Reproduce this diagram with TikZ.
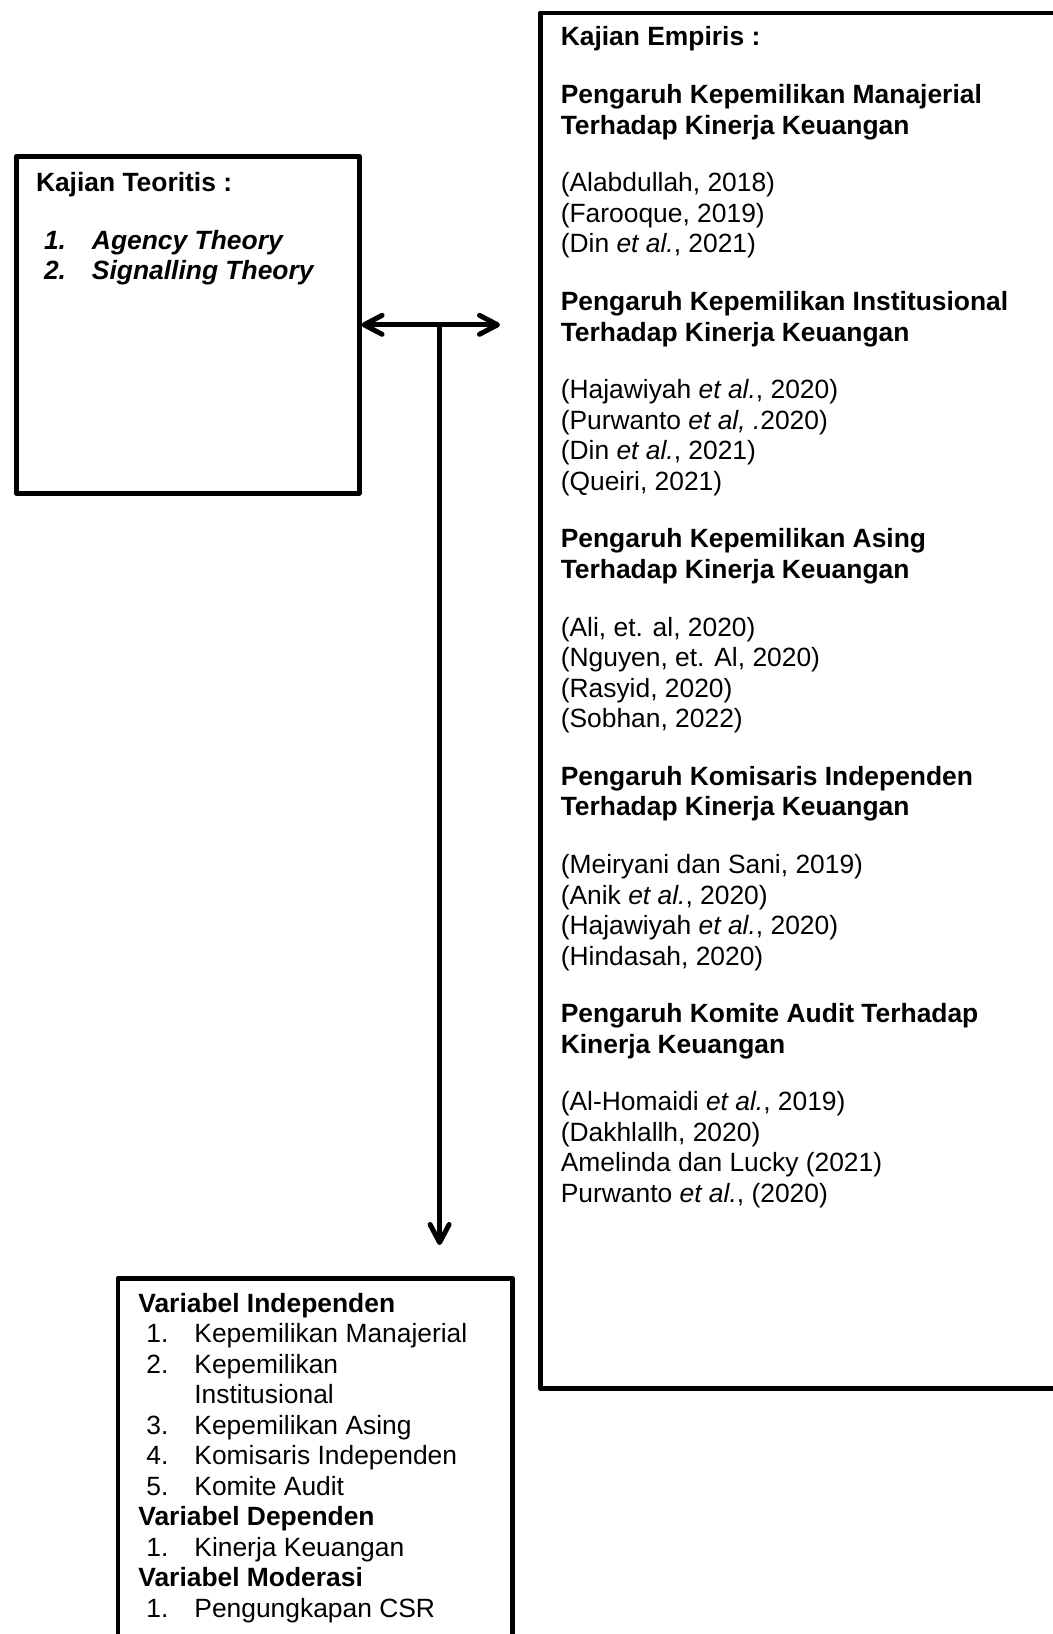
\documentclass[tikz,border=0pt]{standalone}
\usepackage{fontspec}
\setmainfont{Liberation Sans}
\usetikzlibrary{arrows.meta,positioning}

\newcommand{\numItem}[2]{\hspace*{4pt}\makebox[24pt][l]{#1}#2}
\newcommand{\topStrut}{\rule{0pt}{12pt}}
\def\gapSkip{13.6pt}

\begin{document}
\begin{tikzpicture}[
    x=0.5pt,
    y=-0.5pt,
    >={Straight Barb[length=9pt,width=9.5pt,round]},
    line cap=round,
    line join=round,
    frame/.style={draw=black, line width=2.3pt, inner sep=0pt, anchor=north west},
    txt/.style={anchor=north west, align=left, inner sep=0pt, font=\fontsize{13.2}{15.25}\selectfont},
    link/.style={draw=black, line width=2.5pt},
  ]

  % Page size of the reference
  \useasboundingbox (0,0) rectangle (1053,1634);
  \clip (0,0) rectangle (1053,1634);

  % Frames (the right and the lower one run past the page edge)
  \node[frame, minimum width=171.5pt, minimum height=168.5pt] (teori) at (14,154) {};
  \node[frame, minimum width=270pt, minimum height=687.75pt] (empiris) at (538,10.5) {};
  \node[frame, minimum width=197.25pt, minimum height=195pt] (variabel) at (115.5,1276) {};

  % Texts (first baseline 12pt below the node top)
  \node[txt] (teoriText) at ([xshift=10.8pt,yshift=-6.5pt]teori.north west) {%
    \topStrut\textbf{Kajian Teoritis :}\\[\gapSkip]
    {\bfseries\itshape\numItem{1.}{Agency Theory}}\\
    {\bfseries\itshape\numItem{2.}{Signalling Theory}}};

  \node[txt] (empirisText) at ([xshift=11.2pt,yshift=-5.5pt]empiris.north west) {%
    \topStrut\textbf{Kajian Empiris :}\\[\gapSkip]
    \textbf{Pengaruh Kepemilikan Manajerial}\\
    \textbf{Terhadap Kinerja Keuangan}\\[\gapSkip]
    (Alabdullah, 2018)\\
    (Farooque, 2019)\\
    (Din \textit{et al.}, 2021)\\[\gapSkip]
    \textbf{Pengaruh Kepemilikan Institusional}\\
    \textbf{Terhadap Kinerja Keuangan}\\[\gapSkip]
    (Hajawiyah \textit{et al.}, 2020)\\
    (Purwanto \textit{et al, .}2020)\\
    (Din \textit{et al.}, 2021)\\
    (Queiri, 2021)\\[\gapSkip]
    \textbf{Pengaruh Kepemilikan Asing}\\
    \textbf{Terhadap Kinerja Keuangan}\\[\gapSkip]
    (Ali, et. al, 2020)\\
    (Nguyen, et. Al, 2020)\\
    (Rasyid, 2020)\\
    (Sobhan, 2022)\\[\gapSkip]
    \textbf{Pengaruh Komisaris Independen}\\
    \textbf{Terhadap Kinerja Keuangan}\\[\gapSkip]
    (Meiryani dan Sani, 2019)\\
    (Anik \textit{et al.}, 2020)\\
    (Hajawiyah \textit{et al.}, 2020)\\
    (Hindasah, 2020)\\[\gapSkip]
    \textbf{Pengaruh Komite Audit Terhadap}\\
    \textbf{Kinerja Keuangan}\\[\gapSkip]
    (Al-Homaidi \textit{et al.}, 2019)\\
    (Dakhlallh, 2020)\\
    Amelinda dan Lucky (2021)\\
    Purwanto \textit{et al.}, (2020)};

  \node[txt] (variabelText) at ([xshift=11.25pt,yshift=-6pt]variabel.north west) {%
    \topStrut\textbf{Variabel Independen}\\
    \numItem{1.}{Kepemilikan Manajerial}\\
    \numItem{2.}{Kepemilikan}\\
    \hspace*{28pt}Institusional\\
    \numItem{3.}{Kepemilikan Asing}\\
    \numItem{4.}{Komisaris Independen}\\
    \numItem{5.}{Komite Audit}\\
    \textbf{Variabel Dependen}\\
    \numItem{1.}{Kinerja Keuangan}\\
    \textbf{Variabel Moderasi}\\
    \numItem{1.}{Pengungkapan CSR}};

  % Connectors
  \coordinate (tipR) at ([xshift=-19pt]teori.east -| empiris.west);
  \coordinate (junc) at ([xshift=39pt]teori.east);
  \draw[link, <->] (teori.east) -- (tipR);
  \draw[link, ->, shorten >=15.5pt] (junc) -- (junc |- variabel.north);
\end{tikzpicture}
\end{document}
